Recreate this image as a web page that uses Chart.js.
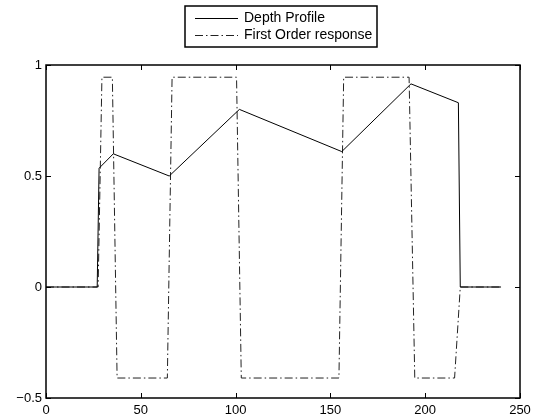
<!DOCTYPE html>
<html>
<head>
<meta charset="utf-8">
<script src="https://cdn.jsdelivr.net/npm/chart.js@4.4.1/dist/chart.umd.min.js"></script>
<style>
  html, body { margin: 0; padding: 0; background: #fff; }
  #wrap { width: 540px; height: 419px; position: relative; }
</style>
</head>
<body>
<div id="wrap"><canvas id="c" width="540" height="419"></canvas></div>
<script>
// ---- data ----
const seriesNames = ["Depth Profile", "First Order response"];
const depthX = [0, 27, 28, 35.5, 65, 102, 156, 192.5, 217.5, 218.5, 240];
const depthY = [0, 0, 0.535, 0.6, 0.5, 0.8, 0.61, 0.915, 0.83, 0, 0];
const responseX = [0, 27.5, 29.5, 35, 37.5, 64, 66.5, 100.5, 103, 154.5, 157, 191.5, 194.5, 215.5, 218.5, 240];
const responseY = [0, 0, 0.945, 0.945, -0.41, -0.41, 0.945, 0.945, -0.41, -0.41, 0.945, 0.945, -0.41, -0.41, 0, 0];
const xTicks = [0, 50, 100, 150, 200, 250];
const yTicks = [-0.5, 0, 0.5, 1];

const FONT = "Liberation Sans";
const toPts = (xs, ys) => xs.map((x, i) => ({ x: x, y: ys[i] }));
const fmt = v => (v < 0 ? "\u2212" + Math.abs(v) : String(v));

const dashDot = [8, 3, 1.5, 3];

const boxAndTicks = {
  id: "boxAndTicks",
  afterDraw(chart) {
    const ctx = chart.ctx;
    const a = chart.chartArea;
    const xs = chart.scales.x, ys = chart.scales.y;
    ctx.save();
    ctx.strokeStyle = "#000";
    ctx.lineWidth = 1.5;
    ctx.setLineDash([]);
    const L = Math.round(a.left), R = Math.round(a.right);
    const T = Math.round(a.top), B = Math.round(a.bottom);
    ctx.strokeRect(L, T, R - L, B - T);
    const tl = 5;
    ctx.lineWidth = 1;
    ctx.beginPath();
    xs.ticks.forEach(t => {
      const p = Math.round(xs.getPixelForValue(t.value)) + 0.5;
      ctx.moveTo(p, B); ctx.lineTo(p, B - tl);
      ctx.moveTo(p, T); ctx.lineTo(p, T + tl);
    });
    ys.ticks.forEach(t => {
      const p = Math.round(ys.getPixelForValue(t.value)) + 0.5;
      ctx.moveTo(L, p); ctx.lineTo(L + tl, p);
      ctx.moveTo(R, p); ctx.lineTo(R - tl, p);
    });
    ctx.stroke();

    // legend
    const bx = 185, by = 6, bw = 192, bh = 41;
    ctx.fillStyle = "#fff";
    ctx.fillRect(bx, by, bw, bh);
    ctx.lineWidth = 1.5;
    ctx.strokeRect(bx, by, bw, bh);
    ctx.font = "14px '" + FONT + "'";
    ctx.fillStyle = "#000";
    ctx.textBaseline = "middle";
    ctx.textAlign = "left";
    chart.data.datasets.forEach((ds, i) => {
      const yy = 18.5 + i * 17;
      ctx.beginPath();
      ctx.setLineDash(ds.borderDash || []);
      ctx.strokeStyle = ds.borderColor;
      ctx.lineWidth = ds.borderWidth;
      ctx.moveTo(195, yy); ctx.lineTo(238, yy);
      ctx.stroke();
      ctx.setLineDash([]);
      ctx.fillText(ds.label, 244, yy);
    });
    ctx.restore();
  }
};

new Chart(document.getElementById("c"), {
  type: "line",
  data: {
    datasets: [
      {
        label: seriesNames[0],
        data: toPts(depthX, depthY),
        borderColor: "#000",
        borderWidth: 1,
        pointRadius: 0,
        tension: 0,
        fill: false
      },
      {
        label: seriesNames[1],
        data: toPts(responseX, responseY),
        borderColor: "#222",
        borderWidth: 1,
        borderDash: dashDot,
        pointRadius: 0,
        tension: 0,
        fill: false
      }
    ]
  },
  options: {
    responsive: false,
    animation: false,
    events: [],
    layout: { padding: { top: 65, right: 20, left: 0, bottom: 0 } },
    plugins: { legend: { display: false }, tooltip: { enabled: false } },
    scales: {
      x: {
        type: "linear",
        min: 0, max: 250,
        afterBuildTicks: s => { s.ticks = xTicks.map(v => ({ value: v })); },
        afterFit: s => { s.height = 21; },
        grid: { display: false, drawTicks: false },
        border: { display: false },
        ticks: {
          padding: 5,
          color: "#000",
          font: { family: FONT, size: 13 },
          maxRotation: 0,
          callback: v => fmt(v)
        }
      },
      y: {
        type: "linear",
        min: -0.5, max: 1,
        afterBuildTicks: s => { s.ticks = yTicks.map(v => ({ value: v })); },
        afterFit: s => { s.width = 46; },
        grid: { display: false, drawTicks: false },
        border: { display: false },
        ticks: {
          padding: 4,
          color: "#000",
          font: { family: FONT, size: 13 },
          callback: v => fmt(v)
        }
      }
    }
  },
  plugins: [boxAndTicks]
});
</script>
</body>
</html>
